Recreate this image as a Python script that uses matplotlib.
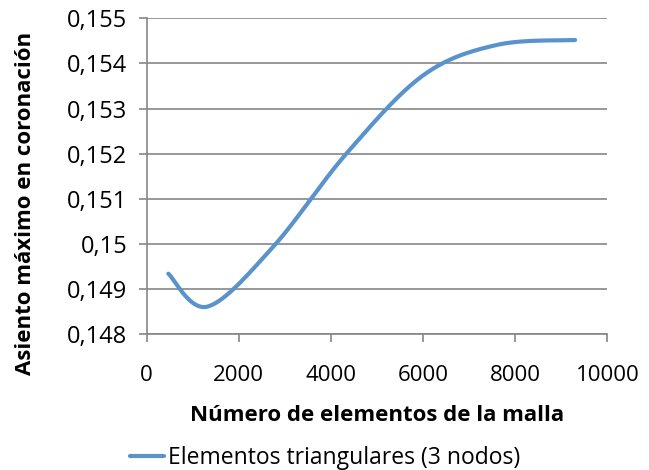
import numpy as np
import matplotlib
matplotlib.use("Agg")
from matplotlib import pyplot as plt

plt.rcParams['font.family'] = ['Open Sans', 'DejaVu Sans']

# mesh convergence: number of elements vs max settlement at crest
n_elementos = [470, 1316, 2748, 4341, 6005, 7597, 9297]
asiento = [0.14934, 0.14861, 0.14994, 0.15201, 0.15374, 0.15441, 0.15452]
serie = 'Elementos triangulares (3 nodos)'

xticks = [0, 2000, 4000, 6000, 8000, 10000]
yticks = [0.148, 0.149, 0.150, 0.151, 0.152, 0.153, 0.154, 0.155]
ylabels = ['0,148', '0,149', '0,15', '0,151', '0,152', '0,153', '0,154', '0,155']


def smooth(x, y, steps=40):
    # spreadsheet-style smoothed line (cubic bezier through every point)
    x = np.asarray(x, float)
    y = np.asarray(y, float)
    px = np.concatenate([[x[0]], x, [x[-1]]])
    py = np.concatenate([[y[0]], y, [y[-1]]])
    t = np.linspace(0, 1, steps)
    xs, ys = [], []
    for i in range(len(x) - 1):
        p0x, p1x, p2x, p3x = px[i], px[i + 1], px[i + 2], px[i + 3]
        p0y, p1y, p2y, p3y = py[i], py[i + 1], py[i + 2], py[i + 3]
        c1x = p1x + (p2x - p0x) / 6
        c1y = p1y + (p2y - p0y) / 6
        c2x = p2x - (p3x - p1x) / 6
        c2y = p2y - (p3y - p1y) / 6
        bx = (1-t)**3*p1x + 3*(1-t)**2*t*c1x + 3*(1-t)*t**2*c2x + t**3*p2x
        by = (1-t)**3*p1y + 3*(1-t)**2*t*c1y + 3*(1-t)*t**2*c2y + t**3*p2y
        xs.append(bx)
        ys.append(by)
    return np.concatenate(xs), np.concatenate(ys)


gris = '#868686'
fs = 16
fig = plt.figure(figsize=(6.49, 4.70), dpi=100)
ax = fig.add_axes([0.226, 0.289, 0.710, 0.672])

sx, sy = smooth(n_elementos, asiento)
ax.plot(sx, sy, color='#5A93CC', lw=3.0, solid_capstyle='round', label=serie)

ax.set_xlim(0, 10000)
ax.set_ylim(0.148, 0.155)
ax.set_xticks(xticks)
ax.set_xticklabels([str(v) for v in xticks])
ax.set_yticks(yticks)
ax.set_yticklabels(ylabels)
ax.tick_params(colors=gris, labelcolor='black', width=1.2, length=6)
ax.tick_params(axis='y', pad=8, labelsize=17)
ax.tick_params(axis='x', pad=16, labelsize=fs)
ax.grid(axis='y', color=gris, lw=1.2)
ax.set_axisbelow(True)
for side in ['top', 'right']:
    ax.spines[side].set_visible(False)
for side in ['left', 'bottom']:
    ax.spines[side].set_color(gris)
    ax.spines[side].set_linewidth(1.2)

fig.text(377 / 649, 1 - 421 / 470, 'Número de elementos de la malla',
         fontsize=fs, fontweight='bold', ha='center', va='baseline')
fig.text(26 / 649, 1 - 203 / 470, 'Asiento máximo en coronación',
         fontsize=fs, fontweight='bold', ha='center', va='center', rotation=90)

fig.legend(handles=ax.get_lines(), loc='center', bbox_to_anchor=(0.5015, 0.026),
           frameon=False, fontsize=16.5, handlelength=1.45, handletextpad=0.2,
           borderpad=0, borderaxespad=0)

fig.savefig('out.png', dpi=100)
